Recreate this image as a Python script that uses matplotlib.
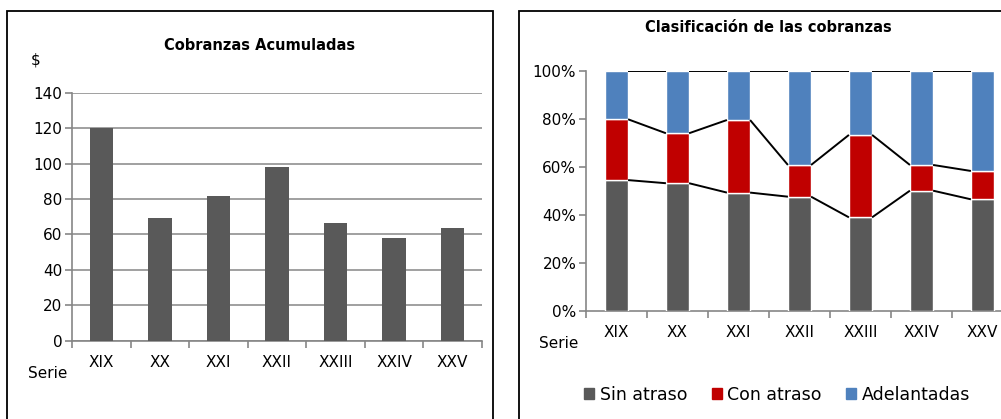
import matplotlib.pyplot as plt
import numpy as np
from matplotlib.patches import Rectangle, Patch
from matplotlib.ticker import FuncFormatter

series = ['XIX', 'XX', 'XXI', 'XXII', 'XXIII', 'XXIV', 'XXV']
acumuladas = [120, 69.4, 81.5, 97.8, 66.3, 58.0, 63.4]

sin_atraso = [54.6, 53.3, 49.4, 47.7, 39.1, 50.2, 46.6]
con_atraso = [25.3, 20.8, 30.2, 13.2, 34.3, 10.7, 11.8]
adelantadas = [20.1, 25.9, 20.4, 39.1, 26.6, 39.1, 41.6]

gris = '#595959'
rojo = '#C00000'
azul = '#4F81BD'
eje = '#868686'

plt.rcParams['font.family'] = 'DejaVu Sans'

fig = plt.figure(figsize=(10.01, 4.19), dpi=100)

# frames around each chart
fig.patches.append(Rectangle((7 / 1001, -0.05), 486 / 1001, 1.05 - 11 / 419,
                             transform=fig.transFigure, fill=False,
                             edgecolor='black', linewidth=1.3))
fig.patches.append(Rectangle((519 / 1001, -0.05), 0.6, 1.05 - 11 / 419,
                             transform=fig.transFigure, fill=False,
                             edgecolor='black', linewidth=1.3))

x = np.arange(len(series))


def style_axes(ax):
    for s in ['top', 'right']:
        ax.spines[s].set_visible(False)
    for s in ['left', 'bottom']:
        ax.spines[s].set_color(eje)
        ax.spines[s].set_linewidth(1.2)
    ax.set_xlim(-0.5, len(series) - 0.5)
    ax.set_xticks(np.arange(len(series) + 1) - 0.5)
    ax.set_xticklabels([])
    ax.set_xticks(x, minor=True)
    ax.set_xticklabels(series, minor=True, fontsize=11)
    ax.tick_params(axis='x', which='major', length=5, color=eje, width=1.2)
    ax.tick_params(axis='x', which='minor', length=0, pad=10)
    ax.tick_params(axis='y', length=5, color=eje, width=1.2, labelsize=11, pad=2)


# ---- left chart: Cobranzas Acumuladas
ax1 = fig.add_axes([72 / 1001, 1 - 340.7 / 419, 410 / 1001, 248 / 419])
ax1.bar(x, acumuladas, width=0.4, color=gris, zorder=3)
ax1.set_ylim(0, 140)
ax1.set_yticks(range(0, 141, 20))
ax1.grid(axis='y', color=eje, linewidth=1.1, zorder=0)
style_axes(ax1)
fig.text(260 / 1001, 1 - 45 / 419, 'Cobranzas Acumuladas', ha='center', va='center',
         fontsize=10.5, fontweight='bold')
fig.text(36 / 1001, 1 - 60 / 419, '$', ha='center', va='center', fontsize=11)
fig.text(48 / 1001, 1 - 373 / 419, 'Serie', ha='center', va='center', fontsize=11)

# ---- right chart: Clasificación de las cobranzas
ax2 = fig.add_axes([586 / 1001, 1 - 311.3 / 419, 427 / 1001, 240.3 / 419])
w = 0.38
b1 = np.array(sin_atraso)
b2 = b1 + np.array(con_atraso)
ax2.bar(x, sin_atraso, width=w, color=gris, edgecolor='white', linewidth=1, zorder=3)
ax2.bar(x, con_atraso, width=w, bottom=b1, color=rojo, edgecolor='white', linewidth=1, zorder=3)
ax2.bar(x, adelantadas, width=w, bottom=b2, color=azul, edgecolor='white', linewidth=1, zorder=3)

# series lines between bars
for nivel in [b1, b2, b1 + np.array(con_atraso) + np.array(adelantadas)]:
    for i in range(len(series) - 1):
        ax2.plot([x[i] + w / 2, x[i + 1] - w / 2], [nivel[i], nivel[i + 1]],
                 color='black', linewidth=1.4, zorder=4, solid_capstyle='butt')

ax2.set_ylim(0, 100)
ax2.set_yticks(range(0, 101, 20))
ax2.yaxis.set_major_formatter(FuncFormatter(lambda v, p: f'{v:.0f}%'))
style_axes(ax2)
for sp in ['top', 'right']:
    ax2.spines[sp].set_visible(False)

fig.text(768 / 1001, 1 - 28 / 419, 'Clasificación de las cobranzas', ha='center',
         va='center', fontsize=10.5, fontweight='bold')
fig.text(559 / 1001, 1 - 343 / 419, 'Serie', ha='center', va='center', fontsize=11)

handles = [Patch(color=gris, label='Sin atraso'),
           Patch(color=rojo, label='Con atraso'),
           Patch(color=azul, label='Adelantadas')]
fig.legend(handles=handles, loc='center', bbox_to_anchor=(777 / 1001, 1 - 395 / 419),
           ncol=3, frameon=False, fontsize=12.5, handlelength=0.6, handleheight=0.6,
           handletextpad=0.3, columnspacing=1.4)

fig.savefig('out.png', dpi=100)
